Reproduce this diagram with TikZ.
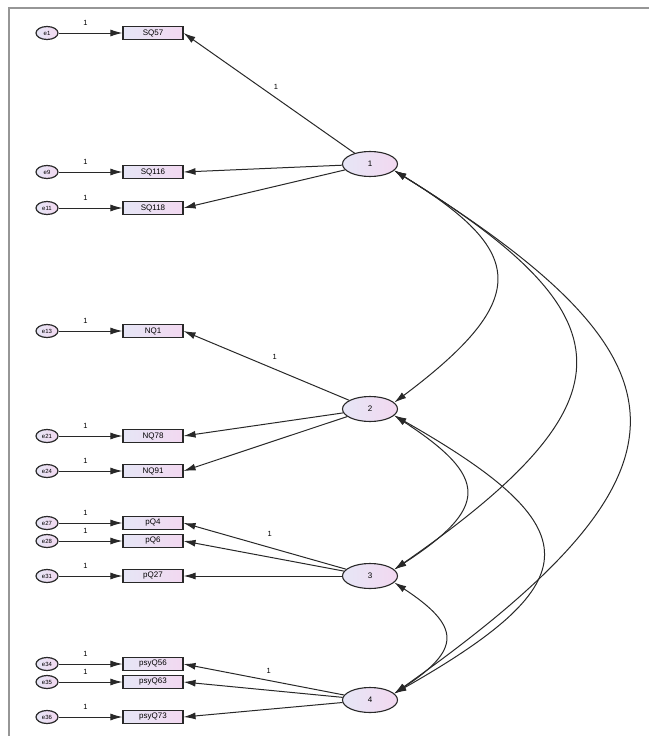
\documentclass[tikz,border=0pt]{standalone}
\usepackage{fontspec}
\setmainfont{Liberation Sans}
\usetikzlibrary{shapes.geometric,arrows.meta}
\definecolor{fillA}{RGB}{230,230,246}
\definecolor{fillB}{RGB}{242,216,240}
\definecolor{framegray}{RGB}{150,150,150}
\definecolor{ink}{RGB}{40,40,40}
\begin{document}
\begin{tikzpicture}[x=1pt,y=-1pt,
  obs/.style={draw=ink, line width=1.1pt, minimum width=60pt, minimum height=13pt, inner sep=0pt,
    font=\fontsize{8}{9}\selectfont, left color=fillA, right color=fillB},
  err/.style={ellipse, draw=ink, line width=1.2pt, minimum width=22pt, minimum height=13pt, inner sep=0pt,
    font=\fontsize{6}{6}\selectfont, left color=fillA, right color=fillB},
  lat/.style={ellipse, draw=ink, line width=1.1pt, minimum width=55pt, minimum height=25pt, inner sep=0pt,
    font=\fontsize{8}{9}\selectfont, left color=fillA, right color=fillB},
  arr/.style={draw=ink, line width=1pt, -{Latex[length=12pt,width=7pt]}},
  cov/.style={draw=ink, line width=1pt, {Latex[length=12pt,width=7pt]}-{Latex[length=12pt,width=7pt]}},
  one/.style={font=\fontsize{7.5}{8}\selectfont, inner sep=0pt}
]
\useasboundingbox (0,0) rectangle (649,736);
\draw[framegray, line width=2pt] (9,736) -- (9,8) -- (649,8);

% latent variables
\node[lat] (l1) at (370,164) {1};
\node[lat] (l2) at (370,409) {2};
\node[lat] (l3) at (370,576) {3};
\node[lat] (l4) at (370,700) {4};

% observed variables
\node[obs] (sq57)  at (153,33)  {SQ57};
\node[obs] (sq116) at (153,172) {SQ116};
\node[obs] (sq118) at (153,208) {SQ118};
\node[obs] (nq1)   at (153,331) {NQ1};
\node[obs] (nq78)  at (153,436) {NQ78};
\node[obs] (nq91)  at (153,471) {NQ91};
\node[obs] (pq4)   at (153,523) {pQ4};
\node[obs] (pq6)   at (153,541) {pQ6};
\node[obs] (pq27)  at (153,576) {pQ27};
\node[obs] (psy56) at (153,664) {psyQ56};
\node[obs] (psy63) at (153,682) {psyQ63};
\node[obs] (psy73) at (153,717) {psyQ73};

% error terms
\node[err] (e1)  at (47,33)  {e1};
\node[err] (e9)  at (47,172) {e9};
\node[err] (e11) at (47,208) {e11};
\node[err] (e13) at (47,331) {e13};
\node[err] (e21) at (47,436) {e21};
\node[err] (e24) at (47,471) {e24};
\node[err] (e27) at (47,523) {e27};
\node[err] (e28) at (47,541) {e28};
\node[err] (e31) at (47,576) {e31};
\node[err] (e34) at (47,664) {e34};
\node[err] (e35) at (47,682) {e35};
\node[err] (e36) at (47,717) {e36};

% error arrows
\foreach \e/\o in {e1/sq57,e9/sq116,e11/sq118,e13/nq1,e21/nq78,e24/nq91,e27/pq4,e28/pq6,e31/pq27,e34/psy56,e35/psy63,e36/psy73}{
  \draw[arr] (\e) -- node[one, pos=0.42, yshift=10pt] {1} (\o);
}

% loadings
\draw[arr] (l1) -- node[one, pos=0.46, yshift=11pt] {1} (sq57.east);
\draw[arr] (l1) -- (sq116.east);
\draw[arr] (l1) -- (sq118.east);
\draw[arr] (l2) -- node[one, pos=0.45, yshift=12pt] {1} (nq1.east);
\draw[arr] (l2) -- (nq78.east);
\draw[arr] (l2) -- (nq91.east);
\draw[arr] (l3) -- node[one, pos=0.47, yshift=14pt] {1} (pq4.east);
\draw[arr] (l3) -- (pq6.east);
\draw[arr] (l3) -- (pq27.east);
\draw[arr] (l4) -- node[one, pos=0.47, yshift=10pt] {1} (psy56.east);
\draw[arr] (l4) -- (psy63.east);
\draw[arr] (l4) -- (psy73.east);

% covariances
\draw[cov] (l1.-15) .. controls +(130,80) and +(140,-105) .. (l2.15);
\draw[cov] (l1.-15) .. controls +(235,145) and +(245,-170) .. (l3.15);
\draw[cov] (l1.-15) .. controls +(305,190) and +(318,-225) .. (l4.15);
\draw[cov] (l2.-15) .. controls +(95,62) and +(95,-62) .. (l3.15);
\draw[cov] (l2.-15) .. controls +(197,112) and +(197,-112) .. (l4.15);
\draw[cov] (l3.-15) .. controls +(67,44) and +(67,-44) .. (l4.15);
\end{tikzpicture}
\end{document}
